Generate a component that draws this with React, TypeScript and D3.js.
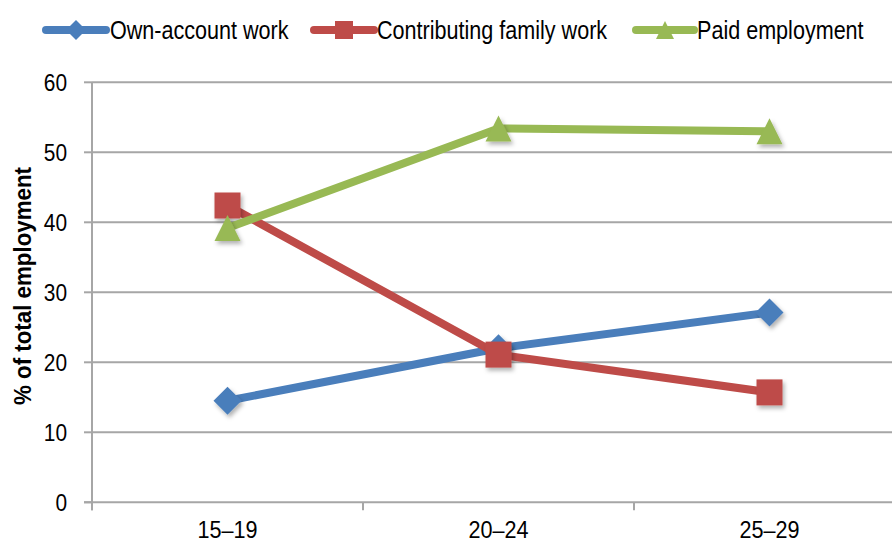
import React from "react";
import * as d3 from "d3";

const categories = ["15–19", "20–24", "25–29"];
const seriesNames = ["Own-account work", "Contributing family work", "Paid employment"];
const ownAccount = [14.5, 22.0, 27.1];
const contributingFamily = [42.4, 21.1, 15.7];
const paidEmployment = [39.2, 53.4, 53.0];
const yTicks = [0, 10, 20, 30, 40, 50, 60];

const W = 892;
const H = 546;
const FONT = "'Liberation Sans', Arial, sans-serif";
const colors = ["#4a7ebb", "#be4b48", "#98b954"];
const shapes = ["diamond", "square", "triangle"];

function markerPath(shape: string, size: number): string {
  const s = size / 2;
  if (shape === "diamond") return `M0,${-s}L${s},0L0,${s}L${-s},0Z`;
  if (shape === "square") return `M${-s},${-s}H${s}V${s}H${-s}Z`;
  return `M0,${-s}L${s},${s}L${-s},${s}Z`;
}

function NText(props: {
  x: number;
  y: number;
  size: number;
  sx: number;
  anchor?: string;
  bold?: boolean;
  rotate?: number;
  children: React.ReactNode;
}) {
  const { x, y, size, sx, anchor, bold, rotate, children } = props;
  return (
    <text
      transform={`translate(${x},${y})${rotate ? ` rotate(${rotate})` : ""} scale(${sx},1)`}
      dy="0.35em"
      textAnchor={anchor || "start"}
      fontFamily={FONT}
      fontSize={size}
      fontWeight={bold ? "bold" : "normal"}
      fill="#000"
    >
      {children}
    </text>
  );
}

export default function App() {
  const x0 = 92;
  const band = 271;
  const x = d3.scaleBand<string>().domain(categories).range([x0, x0 + band * categories.length]);
  const y = d3.scaleLinear().domain([0, 60]).range([502.3, 82.3]);
  const series = [ownAccount, contributingFamily, paidEmployment];
  const line = d3
    .line<number>()
    .x((_, i) => (x(categories[i]) as number) + x.bandwidth() / 2)
    .y((d) => y(d));

  const legendItems = [
    { x1: 46, x2: 106, tx: 110 },
    { x1: 314, x2: 374, tx: 377 },
    { x1: 636, x2: 694, tx: 697 },
  ];
  const legendY = 30;

  const bounds = [...categories.map((c) => x(c) as number), x0 + band * categories.length];

  return (
    <svg width={W} height={H} style={{ position: "absolute", left: 0, top: 0, background: "#fff" }}>
      <defs>
        <filter id="shadow" x="-50%" y="-50%" width="200%" height="200%">
          <feDropShadow dx="2" dy="3" stdDeviation="2" floodColor="#000" floodOpacity="0.3" />
        </filter>
      </defs>
      {yTicks.filter((t) => t > 0).map((t) => (
        <line key={t} x1={x0} x2={W} y1={y(t)} y2={y(t)} stroke="#a6a6a6" strokeWidth={2} />
      ))}
      <line x1={x0} x2={x0} y1={y(60)} y2={y(0) + 8} stroke="#a6a6a6" strokeWidth={2} />
      {yTicks.map((t) => (
        <g key={t}>
          <line x1={x0 - 8} x2={x0} y1={y(t)} y2={y(t)} stroke="#a6a6a6" strokeWidth={2} />
          <NText x={67} y={y(t)} size={24} sx={0.87} anchor="end">
            {t}
          </NText>
        </g>
      ))}
      <line x1={x0 - 8} x2={W} y1={y(0)} y2={y(0)} stroke="#a6a6a6" strokeWidth={2} />
      {bounds.map((b, i) => (
        <line key={i} x1={b} x2={b} y1={y(0)} y2={y(0) + 8} stroke="#a6a6a6" strokeWidth={2} />
      ))}
      {categories.map((c) => (
        <NText key={c} x={(x(c) as number) + x.bandwidth() / 2} y={530} size={24} sx={0.9} anchor="middle">
          {c}
        </NText>
      ))}
      <NText x={23} y={286} size={24} sx={0.93} anchor="middle" bold rotate={-90}>
        % of total employment
      </NText>
      {series.map((vals, si) => (
        <g key={si}>
          <path d={line(vals) || ""} fill="none" stroke={colors[si]} strokeWidth={8} strokeLinejoin="round" />
          {vals.map((v, i) => (
            <path
              key={i}
              d={markerPath(shapes[si], si === 0 ? 28 : 26)}
              transform={`translate(${(x(categories[i]) as number) + x.bandwidth() / 2},${y(v)})`}
              fill={colors[si]}
              filter="url(#shadow)"
            />
          ))}
        </g>
      ))}
      {legendItems.map((it, i) => (
        <g key={i}>
          <line x1={it.x1} x2={it.x2} y1={legendY} y2={legendY} stroke={colors[i]} strokeWidth={8} strokeLinecap="round" />
          <path
            d={markerPath(shapes[i], i === 0 ? 20 : 18)}
            transform={`translate(${(it.x1 + it.x2) / 2},${legendY})`}
            fill={colors[i]}
          />
          <NText x={it.tx} y={legendY} size={26} sx={0.83}>
            {seriesNames[i]}
          </NText>
        </g>
      ))}
    </svg>
  );
}
